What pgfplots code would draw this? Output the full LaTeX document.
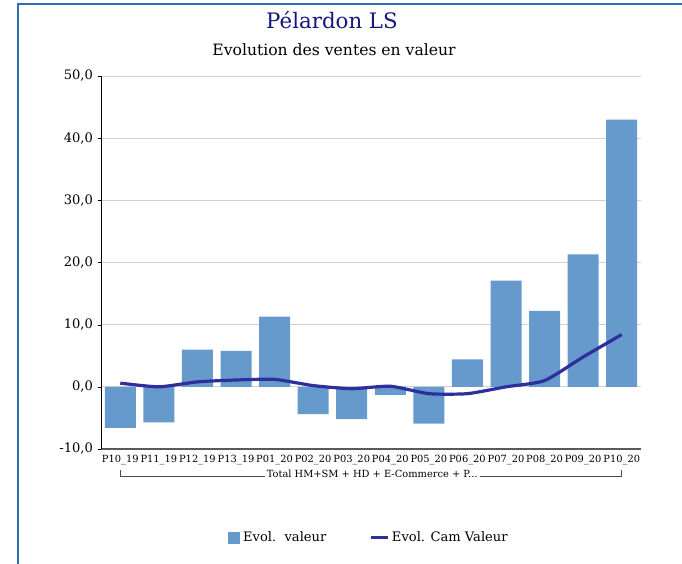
\documentclass[border=0pt]{standalone}
\usepackage{fontspec}
\setmainfont{DejaVu Serif}
\usepackage{pgfplots}
\pgfplotsset{compat=1.18}

\definecolor{barblue}{RGB}{102,153,204}
\definecolor{camblue}{RGB}{46,46,156}
\definecolor{titleblue}{RGB}{22,22,128}
\definecolor{frameblue}{RGB}{46,110,181}

\begin{document}
\begin{tikzpicture}
  \begin{axis}[
      scale only axis,
      width=405pt, height=279.75pt,
      clip=false,
      xmin=-0.5, xmax=13.5,
      ymin=-10, ymax=50,
      ytick={-10,0,10,20,30,40,50},
      xtick={0,...,13},
      xticklabels={P10\_19,P11\_19,P12\_19,P13\_19,P01\_20,P02\_20,P03\_20,P04\_20,P05\_20,P06\_20,P07\_20,P08\_20,P09\_20,P10\_20},
      major x tick style={draw=none},
      x tick label style={font=\fontsize{7.4}{8.5}\selectfont, yshift=-1pt},
      y tick label style={font=\fontsize{9.8}{11}\selectfont},
      /pgf/number format/.cd, fixed, fixed zerofill, precision=1, use comma, assume math mode=true,
      /pgfplots/.cd,
      axis x line*=bottom,
      axis y line*=left,
      x axis line style={-, draw=black!65, line width=1pt},
      y axis line style={-, draw=black, line width=0.6pt},
      ytick style={draw=black},
      ytick align=outside,
      major tick length=2.5pt,
      ymajorgrids,
      grid style={draw=black!18, line width=0.6pt},
      legend style={at={(0.497,-0.2386)}, anchor=center, draw=none,
                    font=\fontsize{9.8}{11}\selectfont, legend columns=2},
      /tikz/every even column/.append style={column sep=30pt},
    ]
    \addplot[ybar, bar width=23.25pt, bar shift=0pt, fill=barblue, draw=none,
      legend image code/.code={\fill[barblue] (0pt,-4.5pt) rectangle (9pt,4.5pt);}]
      coordinates {(0,-6.6) (1,-5.7) (2,6.0) (3,5.8) (4,11.3) (5,-4.4) (6,-5.2)
                   (7,-1.3) (8,-5.9) (9,4.4) (10,17.1) (11,12.2) (12,21.3) (13,43.0)};
    \addlegendentry{Evol.\ \ valeur}
    \addplot[smooth, tension=0.35, line width=2.4pt, color=camblue, no marks,
      legend image code/.code={\draw[line width=2.25pt, camblue] (0pt,0pt) -- (13pt,0pt);}]
      coordinates {(0,0.6) (1,0.0) (2,0.8) (3,1.1) (4,1.2) (5,0.2) (6,-0.3)
                   (7,0.1) (8,-1.1) (9,-1.1) (10,0.0) (11,1.0) (12,4.8) (13,8.4)};
    \addlegendentry{Evol. Cam Valeur}

    \draw[black!70, line width=0.8pt]
      ([yshift=-16pt]axis cs:0,-10) -- ([yshift=-20.5pt]axis cs:0,-10)
      -- ([yshift=-20.5pt]axis cs:13,-10) -- ([yshift=-16pt]axis cs:13,-10);
    \node[fill=white, inner sep=1.5pt, font=\fontsize{7.4}{8.5}\selectfont]
      at ([yshift=-18.5pt]axis cs:6.53,-10) {Total HM+SM + HD + E-Commerce + P...};
  \end{axis}

  \path[use as bounding box] (-75.75pt,-86.25pt) rectangle (435.75pt,336.75pt);
  \draw[frameblue, line width=1.2pt] (-62.25pt,-86.25pt) -- (-62.25pt,333.75pt) -- (435.75pt,333.75pt);
  \node[titleblue, font=\fontsize{16}{19}\selectfont] at (173.25pt,321.75pt) {Pélardon LS};
  \node[font=\fontsize{11.7}{14}\selectfont] at (174.75pt,299.25pt) {Evolution des ventes en valeur};
\end{tikzpicture}
\end{document}
